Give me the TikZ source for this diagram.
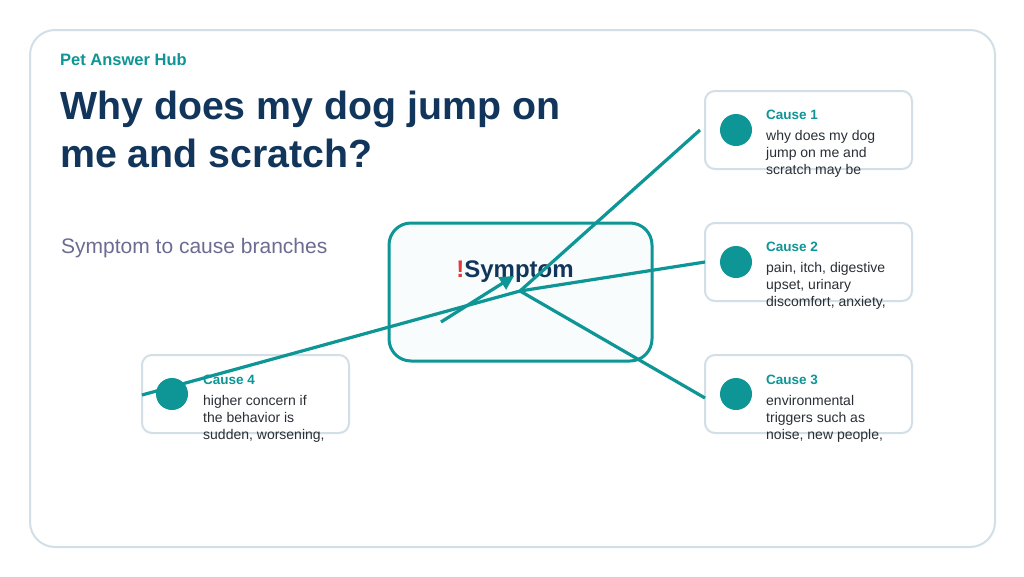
\documentclass[tikz,border=0pt]{standalone}
\usepackage{fontspec}
\setmainfont{Liberation Sans}
\usetikzlibrary{arrows.meta}
\definecolor{teal}{HTML}{0E9595}
\definecolor{navy}{HTML}{12355B}
\definecolor{frame}{HTML}{D3DFE7}
\definecolor{txt}{HTML}{2A2F36}
\begin{document}
\begin{tikzpicture}[x=1pt,y=-1pt,
  card/.style={draw=frame,line width=2pt,fill=white,rounded corners=10pt},
  conn/.style={draw=teal,line width=3.2pt},
  dot/.style={circle,fill=teal,minimum size=32pt,inner sep=0pt},
  ctitle/.style={anchor=west,text=teal,font=\bfseries\fontsize{13.5}{15}\selectfont,inner sep=0pt},
  cbody/.style={anchor=north west,text=txt,font=\fontsize{14}{17}\selectfont,align=left,inner sep=0pt}]
\useasboundingbox (0,0) rectangle (1024,576);
\draw[frame,line width=2pt,rounded corners=25pt,fill=white] (30,30) rectangle (995,547);
\node[anchor=west,text=teal,font=\bfseries\fontsize{16.5}{18}\selectfont,inner sep=0pt] (brand) at (60,60) {Pet Answer Hub};
\node[anchor=north west,text=navy,font=\bfseries\fontsize{39.3}{48}\selectfont,align=left,inner sep=0pt] (title) at (60,91) {Why does my dog jump on\\me and scratch?};
\node[anchor=west,text=gray!85!blue,font=\fontsize{21}{24}\selectfont,inner sep=0pt] (sub) at (61,248) {Symptom to cause branches};
\draw[teal,line width=3pt,fill=teal!3!white,rounded corners=22pt] (389,223) rectangle (652,361);
\node[text=navy,font=\bfseries\fontsize{24}{28}\selectfont,inner sep=0pt] (sym) at (515,272) {\textcolor[HTML]{E53935}{!}Symptom};
\coordinate (hub) at (520,291);
\foreach \n/\x/\y in {c1/705/91,c2/705/223,c3/705/355,c4/142/355}
  \draw[card] (\x,\y) rectangle ++(207,78);
\coordinate (e1) at (700,130);
\coordinate (e2) at (705,262);
\coordinate (e3) at (705,398);
\coordinate (e4) at (142,395);
\draw[conn] (hub)--(e1);
\draw[conn] (hub)--(e2);
\draw[conn] (hub)--(e3);
\draw[conn] (hub)--(e4);
\coordinate (a0) at (441,322);
\coordinate (a1) at (514,276);
\draw[conn,-{Triangle[length=14pt,width=14pt]}] (a0)--(a1);
\node[dot] (d1) at (736,130) {};
\node[dot] (d2) at (736,262) {};
\node[dot] (d3) at (736,394) {};
\node[dot] (d4) at (172,394) {};
\node[ctitle] (t1) at (766,115) {Cause 1};
\node[cbody] (b1) at (766,130) {why does my dog\\jump on me and\\scratch may be};
\node[ctitle] (t2) at (766,247) {Cause 2};
\node[cbody] (b2) at (766,262) {pain, itch, digestive\\upset, urinary\\discomfort, anxiety,};
\node[ctitle] (t3) at (766,380) {Cause 3};
\node[cbody] (b3) at (766,395) {environmental\\triggers such as\\noise, new people,};
\node[ctitle] (t4) at (203,380) {Cause 4};
\node[cbody] (b4) at (203,395) {higher concern if\\the behavior is\\sudden, worsening,};
\end{tikzpicture}
\end{document}
